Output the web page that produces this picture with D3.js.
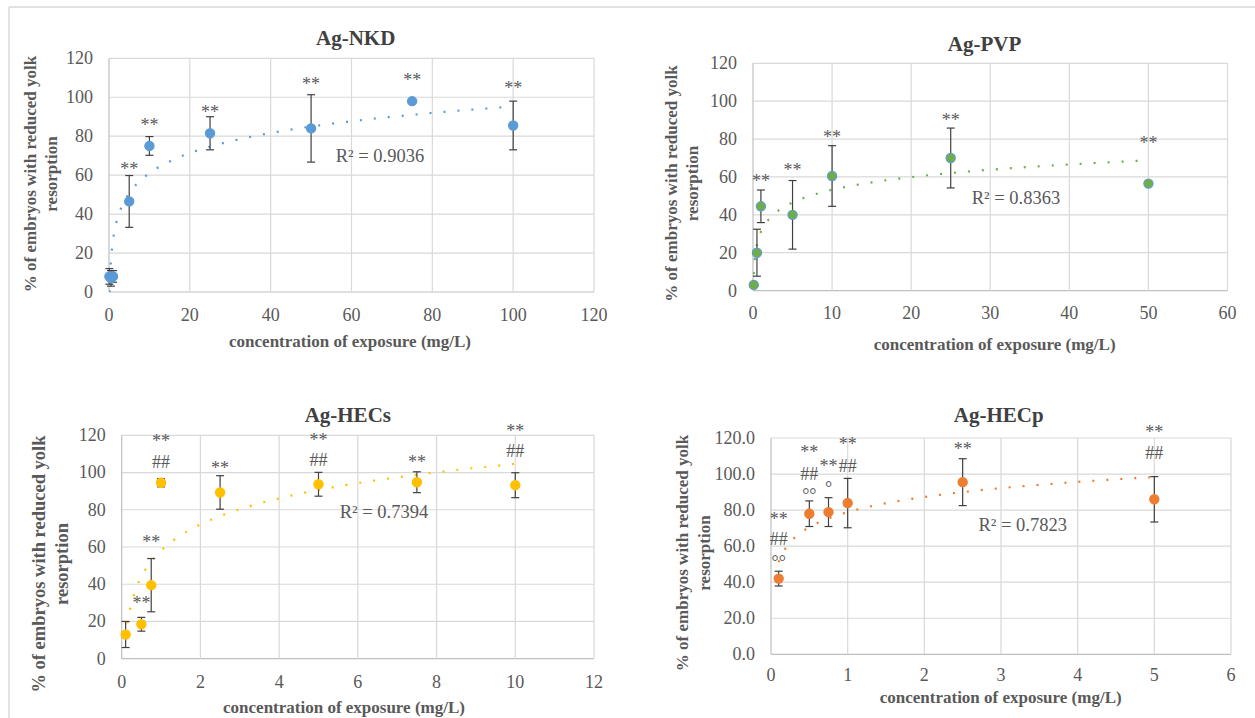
<!DOCTYPE html>
<html><head><meta charset="utf-8">
<script src="https://cdn.jsdelivr.net/npm/d3@7"></script>
</head><body style="margin:0">
<svg id="c" width="1255" height="718"></svg>
<script>
// ---------- data ----------
const nkdConc = [0.1, 0.5, 1, 5, 10, 25, 50, 75, 100];
const nkdPct  = [8, 7, 8, 46.5, 75, 81.5, 84, 98, 85.5];
const nkdSd   = [4, 4, 3, 13.3, 4.8, 8.5, 17.3, 0, 12.5];
const nkdNotes = [[5, 64.8, "**"], [10, 87.3, "**"], [25, 94, "**"], [50, 108.7, "**"], [75, 110.4, "**"], [100, 106.7, "**"]];
const nkdXTicks = [0, 20, 40, 60, 80, 100, 120];

const pvpConc = [0.1, 0.5, 1, 5, 10, 25, 50];
const pvpPct  = [3, 20, 44.5, 40, 60.5, 70, 56.5];
const pvpSd   = [0, 12.4, 8.6, 18.1, 16, 15.8, 0];
const pvpNotes = [[1, 59.8, "**"], [5, 65.4, "**"], [10, 83, "**"], [25, 91.8, "**"], [50, 79.5, "**"]];
const pvpXTicks = [0, 10, 20, 30, 40, 50, 60];

const hecsConc = [0.1, 0.5, 0.75, 1, 2.5, 5, 7.5, 10];
const hecsPct  = [13, 18.5, 39.5, 94.5, 89.3, 93.7, 94.8, 93.2];
const hecsSd   = [7, 3.7, 14.3, 2.2, 9, 6.4, 5.6, 6.7];
const hecsNotes = [[0.5, 31.5, "**"], [0.75, 64.5, "**"], [1, 118.6, "**"], [1, 105.6, "##"], [2.5, 104.2, "**"],
                   [5, 119.3, "**"], [5, 106.5, "##"], [7.5, 107.4, "**"], [10, 124.3, "**"], [10, 111.5, "##"]];
const hecsXTicks = [0, 2, 4, 6, 8, 10, 12];

const hecpConc = [0.1, 0.5, 0.75, 1, 2.5, 5];
const hecpPct  = [42, 78, 78.9, 83.9, 95.5, 86];
const hecpSd   = [4.1, 7.1, 8, 13.7, 13, 12.6];
const hecpNotes = [[0.1, 77.2, "**"], [0.1, 63.8, "##"], [0.1, 54.1, "°°"], [0.5, 114.2, "**"], [0.5, 99.9, "##"], [0.5, 90.9, "°°"],
                   [0.75, 106.5, "**"], [0.75, 94.9, "°"], [1, 118.8, "**"], [1, 104.3, "##"], [2.5, 115.7, "**"], [5, 125.2, "**"], [5, 111.4, "##"]];
const hecpXTicks = [0, 1, 2, 3, 4, 5, 6];

const yTicks = [0, 20, 40, 60, 80, 100, 120];
const titles = ["Ag-NKD", "Ag-PVP", "Ag-HECs", "Ag-HECp"];
const r2Labels = ["R² = 0.9036", "R² = 0.8363", "R² = 0.7394", "R² = 0.7823"];
const xTitle = "concentration of exposure (mg/L)";
const yTitleLines = ["% of embryos with reduced yolk", "resorption"];

// ---------- layout ----------
const FONT = "'Liberation Serif', Tinos, 'Nimbus Roman', FreeSerif, Times, 'Times New Roman', serif";
const panels = [
  {title: titles[0], r2: r2Labels[0], conc: nkdConc, pct: nkdPct, sd: nkdSd, notes: nkdNotes, xTicks: nkdXTicks, yFmt: d3.format("d"),
   fill: "#5B9BD5", stroke: "#5B9BD5",
   L: {x0: 109, x1: 594, yb: 292, yt: 58.3, tx: 355.7, ty: 37.7, xtx: 350, xty: 341.7, yt1: 30.8, yt2: 51.4, ytc: 174, yts: 17, tickY: 315, r2x: 380, r2y: 155.7}},
  {title: titles[1], r2: r2Labels[1], conc: pvpConc, pct: pvpPct, sd: pvpSd, notes: pvpNotes, xTicks: pvpXTicks, yFmt: d3.format("d"),
   fill: "#70AD47", stroke: "#5B9BD5",
   L: {x0: 753, x1: 1227.5, yb: 290.6, yt: 63.3, tx: 984.5, ty: 43.3, xtx: 994.6, xty: 345, yt1: 671.8, yt2: 692.9, ytc: 183.5, yts: 17, tickY: 313.3, r2x: 1016, r2y: 198.3}},
  {title: titles[2], r2: r2Labels[2], conc: hecsConc, pct: hecsPct, sd: hecsSd, notes: hecsNotes, xTicks: hecsXTicks, yFmt: d3.format("d"),
   fill: "#FFC000", stroke: "#FFC000",
   L: {x0: 121.7, x1: 594, yb: 658.7, yt: 435.3, tx: 347.8, ty: 415, xtx: 344, xty: 708.3, yt1: 39.5, yt2: 62.5, ytc: 564, yts: 18.5, tickY: 681.7, r2x: 384, r2y: 512.3}},
  {title: titles[3], r2: r2Labels[3], conc: hecpConc, pct: hecpPct, sd: hecpSd, notes: hecpNotes, xTicks: hecpXTicks, yFmt: d3.format(".1f"),
   fill: "#ED7D31", stroke: "#ED7D31",
   L: {x0: 771, x1: 1231, yb: 654.3, yt: 438, tx: 998.7, ty: 415, xtx: 1000.7, xty: 698.3, yt1: 682.8, yt2: 705, ytc: 553, yts: 17, tickY: 675, r2x: 1022.7, r2y: 525}}
];

const svg = d3.select("#c").style("font-family", FONT);
// outer frame lines
svg.append("line").attr("x1", 9).attr("x2", 1255).attr("y1", 7).attr("y2", 7).attr("stroke", "#d9d9d9").attr("stroke-width", 1.5);
svg.append("line").attr("x1", 9).attr("x2", 9).attr("y1", 7).attr("y2", 718).attr("stroke", "#d9d9d9").attr("stroke-width", 1.5);

const txtGray = "#595959";

function logFit(xs, ys) {
  const lx = xs.map(Math.log);
  const mx = d3.mean(lx), my = d3.mean(ys);
  let sxy = 0, sxx = 0;
  lx.forEach((v, i) => { sxy += (v - mx) * (ys[i] - my); sxx += (v - mx) ** 2; });
  const a = sxy / sxx, b = my - a * mx;
  return {a, b};
}

function addText(parent, x, y, txt, size, opts) {
  const t = parent.append("text").attr("x", x).attr("y", y)
    .attr("font-family", FONT).style("font-family", FONT)
    .attr("font-size", size).attr("fill", opts.fill || txtGray)
    .attr("text-anchor", opts.anchor || "middle").text(txt);
  if (opts.bold) t.attr("font-weight", "bold");
  if (opts.dy) t.attr("dy", opts.dy);
  return t;
}

panels.forEach((p, pi) => {
  const L = p.L;
  const x = d3.scaleLinear().domain([d3.min(p.xTicks), d3.max(p.xTicks)]).range([L.x0, L.x1]);
  const y = d3.scaleLinear().domain([0, 120]).range([L.yb, L.yt]);
  const g = svg.append("g");

  // gridlines
  g.append("g").selectAll("line").data(yTicks).join("line")
    .attr("x1", L.x0).attr("x2", L.x1).attr("y1", d => y(d)).attr("y2", d => y(d))
    .attr("stroke", d => d === 0 ? "#bfbfbf" : "#d9d9d9").attr("stroke-width", 1.2);
  g.append("g").selectAll("line").data(p.xTicks).join("line")
    .attr("x1", d => x(d)).attr("x2", d => x(d)).attr("y1", L.yb).attr("y2", L.yt)
    .attr("stroke", d => d === 0 ? "#bfbfbf" : "#d9d9d9").attr("stroke-width", 1.2);

  // tick labels (positions from the scales)
  yTicks.forEach(v => addText(g, L.x0 - 16, y(v), p.yFmt(v), 18, {anchor: "end", dy: "0.33em"}));
  p.xTicks.forEach(v => addText(g, x(v), L.tickY, d3.format("d")(v), 18, {dy: "0.33em"}));

  // titles
  addText(g, L.tx, L.ty, p.title, 21, {bold: true, fill: "#404040", dy: "0.35em"});
  addText(g, L.xtx, L.xty, xTitle, 17, {bold: true, dy: "0.3em"});
  [L.yt1, L.yt2].forEach((cx, k) => {
    addText(g, 0, 0, yTitleLines[k], L.yts, {bold: true, dy: "0.3em"})
      .attr("transform", `translate(${cx},${L.ytc}) rotate(-90)`);
  });

  // trendline (logarithmic least squares fit of the series)
  const fit = logFit(p.conc, p.pct);
  const cid = "clip" + pi;
  svg.append("clipPath").attr("id", cid).append("rect")
    .attr("x", L.x0).attr("y", L.yt).attr("width", L.x1 - L.x0).attr("height", L.yb - L.yt);
  const lo = Math.log(d3.min(p.conc)), hi = Math.log(d3.max(p.conc));
  const samples = d3.range(0, 301).map(i => Math.exp(lo + (hi - lo) * i / 300));
  const line = d3.line().x(d => x(d)).y(d => y(fit.a * Math.log(d) + fit.b));
  g.append("path").attr("clip-path", `url(#${cid})`).attr("d", line(samples))
    .attr("fill", "none").attr("stroke", p.fill).attr("stroke-width", 2.2)
    .attr("stroke-dasharray", "2 12");

  // R² label
  addText(g, L.r2x, L.r2y, p.r2, 18.5, {dy: "0.33em"});

  // error bars
  const eb = g.append("g").attr("stroke", "#404040").attr("stroke-width", 1.2);
  p.conc.forEach((c, i) => {
    if (!p.sd[i]) return;
    const cx = x(c), top = y(p.pct[i] + p.sd[i]), bot = y(p.pct[i] - p.sd[i]);
    eb.append("line").attr("x1", cx).attr("x2", cx).attr("y1", top).attr("y2", bot);
    eb.append("line").attr("x1", cx - 4).attr("x2", cx + 4).attr("y1", top).attr("y2", top);
    eb.append("line").attr("x1", cx - 4).attr("x2", cx + 4).attr("y1", bot).attr("y2", bot);
  });

  // markers
  g.append("g").selectAll("circle").data(p.conc).join("circle")
    .attr("cx", d => x(d)).attr("cy", (d, i) => y(p.pct[i])).attr("r", 4.6)
    .attr("fill", p.fill).attr("stroke", p.stroke).attr("stroke-width", 1.2);

  // significance annotations
  const dyFor = t => t[0] === "*" ? "0.52em" : (t[0] === "#" ? "0.33em" : "0.6em");
  p.notes.forEach(d => addText(g, x(d[0]), y(d[1]), d[2], 18, {dy: dyFor(d[2])}));
});
</script>
</body></html>
